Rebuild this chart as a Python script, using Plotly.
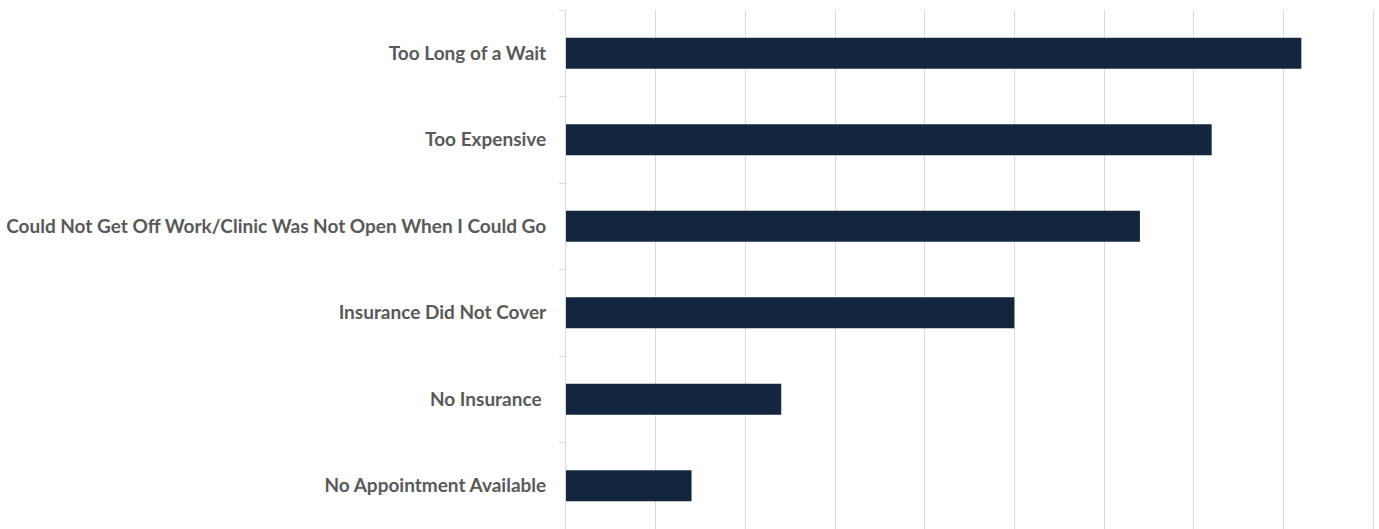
import plotly.graph_objects as go

categories = [
    "No Appointment Available",
    "No Insurance ",
    "Insurance Did Not Cover",
    "Could Not Get Off Work/Clinic Was Not Open When I Could Go",
    "Too Expensive",
    "Too Long of a Wait",
]
values = [7, 12, 25, 32, 36, 41]

fig = go.Figure(go.Bar(
    x=values, y=categories, orientation="h",
    marker=dict(color="#13263F", line=dict(width=0)),
))

fig.update_layout(
    width=1379, height=529,
    margin=dict(l=566, r=0, t=10, b=0),
    paper_bgcolor="white", plot_bgcolor="white",
    bargap=0.64,
    showlegend=False,
    font=dict(family="Lato", size=19, color="#595959"),
)
fig.update_xaxes(
    range=[0, 45.33], tick0=0, dtick=5, showticklabels=False,
    showgrid=True, gridcolor="#d9d9d9", gridwidth=1, zeroline=False,
)
fig.update_yaxes(
    showline=True, linecolor="#d9d9d9", linewidth=1,
    ticks="outside", tickson="boundaries", ticklen=6, tickcolor="#d9d9d9",
    tickfont=dict(family="Lato", size=19, color="#595959", weight="bold"),
    ticklabelstandoff=15, showgrid=False,
)

fig.write_html("out.html")
